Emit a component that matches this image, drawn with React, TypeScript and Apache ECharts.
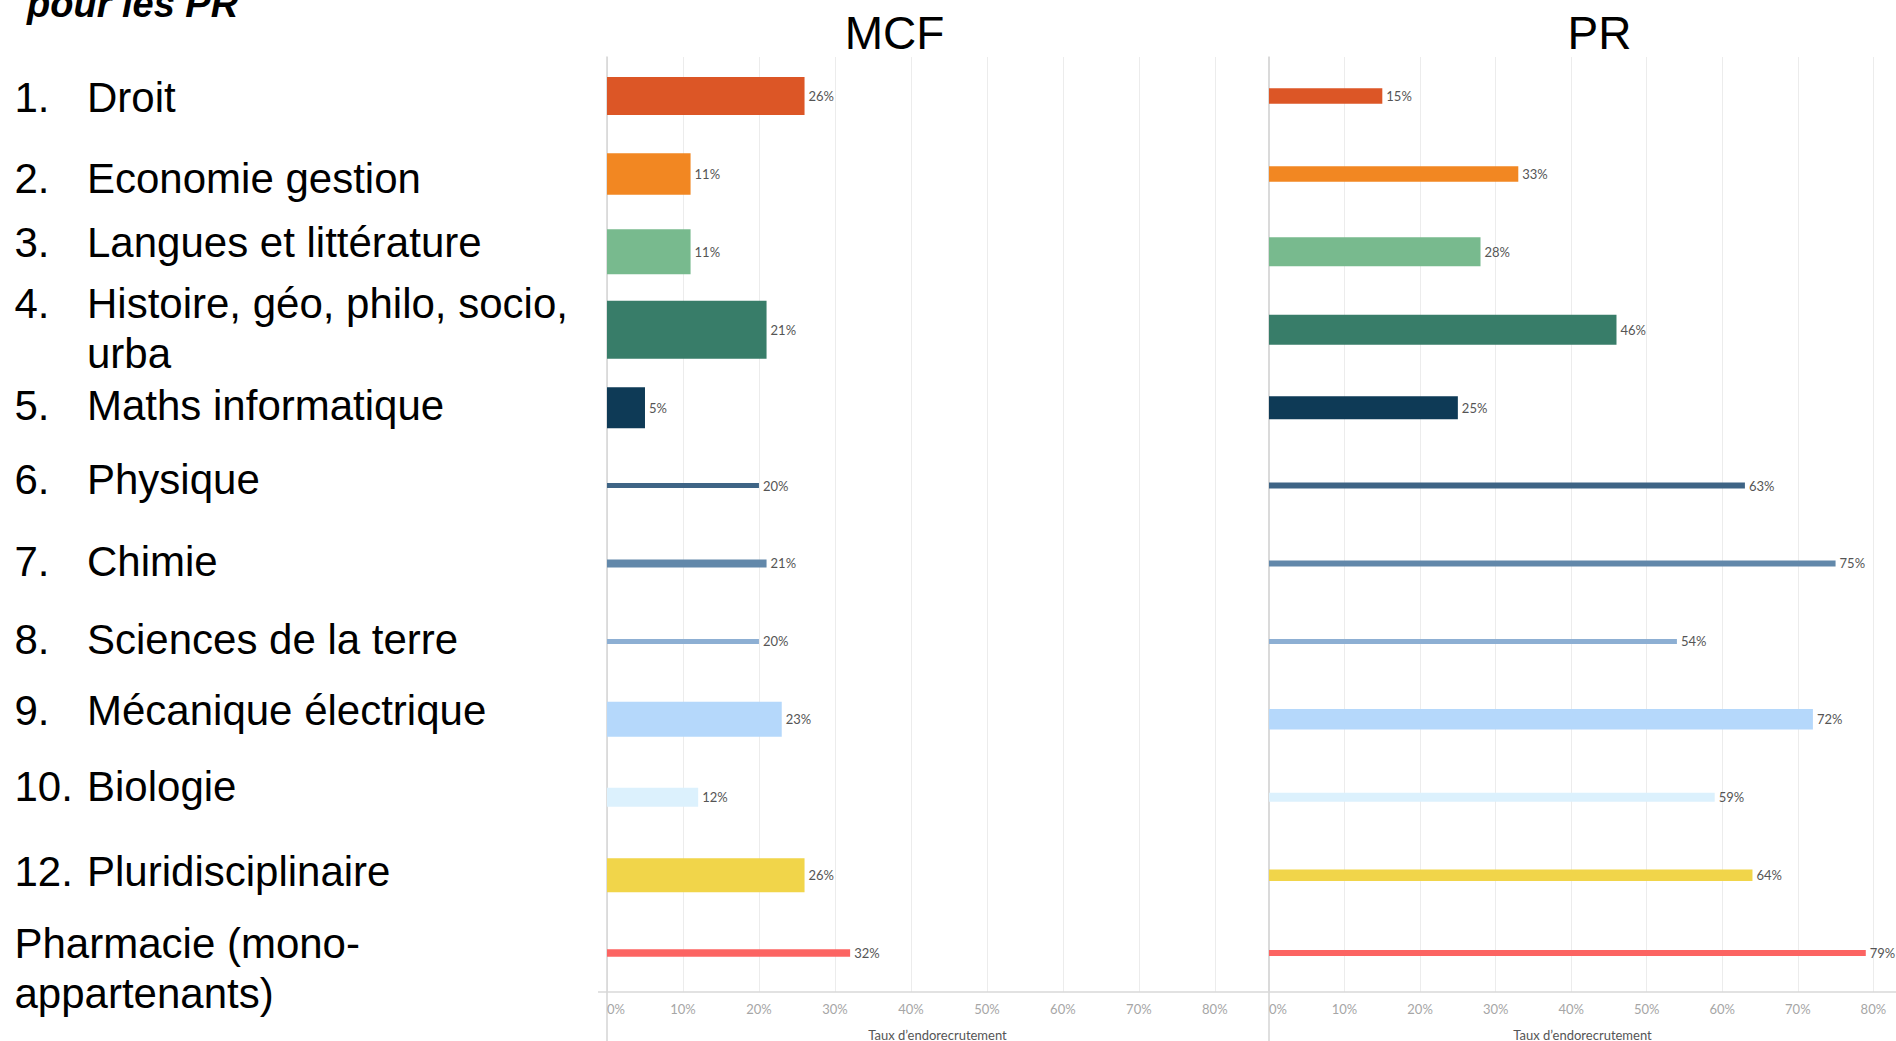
import React, { useEffect, useRef } from "react";
import * as echarts from "echarts";

// ---- Data ----
const categories = [
  "Droit",
  "Economie gestion",
  "Langues et littérature",
  "Histoire, géo, philo, socio, urba",
  "Maths informatique",
  "Physique",
  "Chimie",
  "Sciences de la terre",
  "Mécanique électrique",
  "Biologie",
  "Pluridisciplinaire",
  "Pharmacie (mono-appartenants)",
];
const mcfValues = [26, 11, 11, 21, 5, 20, 21, 20, 23, 12, 26, 32];
const prValues = [15, 33, 28, 46, 25, 63, 75, 54, 72, 59, 64, 79];
const panelTitles = ["MCF", "PR"];
const axisTitle = "Taux d\u2019endorecrutement";
const headerText = "pour les PR";
const listNumbers = ["1.", "2.", "3.", "4.", "5.", "6.", "7.", "8.", "9.", "10.", "12.", ""];
const listLines = [
  ["Droit"],
  ["Economie gestion"],
  ["Langues et littérature"],
  ["Histoire, géo, philo, socio,", "urba"],
  ["Maths informatique"],
  ["Physique"],
  ["Chimie"],
  ["Sciences de la terre"],
  ["Mécanique électrique"],
  ["Biologie"],
  ["Pluridisciplinaire"],
  ["Pharmacie (mono-", "appartenants)"],
];

// ---- Styles / layout ----
const COLORS = [
  "#DC5626", "#F28722", "#78BA8E", "#387D69", "#0E3A56", "#3E6485",
  "#6288AA", "#8DAFD3", "#B5D8FB", "#DCF1FD", "#F1D54A", "#FC6462",
];
const MCF_THICK = [38, 41.5, 45, 58, 41, 5, 8, 5, 35, 19, 34, 7.5];
const PR_THICK = [15.5, 15.5, 29, 30, 23, 6, 6, 5, 20.5, 9, 11.5, 6];
const LABEL_Y = [97, 178, 242, 303, 405, 479, 561, 639, 710, 786, 871, 943];
const LINE_GAP = 50;
const GRID_TOP = 57;
const GRID_H = 935;
const MCF_LEFT = 607;
const MCF_W = 661;
const PR_LEFT = 1269;
const PR_W = 627;
const LIGHT_FONT = "Lato";
const BIG_FONT = "Liberation Sans";

function makeRenderItem(thick: number[]) {
  return (params: any, api: any) => {
    const v = api.value(0);
    const cat = api.value(1);
    const p0 = api.coord([0, cat]);
    const p1 = api.coord([v, cat]);
    const h = thick[params.dataIndex];
    return {
      type: "group",
      children: [
        {
          type: "rect",
          shape: { x: p0[0], y: p0[1] - h / 2, width: p1[0] - p0[0], height: h },
          style: { fill: COLORS[params.dataIndex] },
        },
        {
          type: "text",
          x: p1[0] + 4,
          y: p1[1],
          style: {
            text: v + "%",
            fill: "#555555",
            fontSize: 13,
            fontFamily: LIGHT_FONT,
            align: "left",
            verticalAlign: "middle",
          },
        },
      ],
    };
  };
}

function xAxisFor(gridIndex: number, max: number) {
  return {
    type: "value",
    gridIndex,
    min: 0,
    max,
    interval: 10,
    axisLine: { show: true, lineStyle: { color: "#d9d9d9", width: 1.5 } },
    axisTick: { show: false },
    splitLine: { show: true, lineStyle: { color: "#ececec", width: 1 } },
    axisLabel: {
      formatter: (v: number) => v + "%",
      color: "#a6a6a6",
      fontSize: 13,
      fontFamily: LIGHT_FONT,
      margin: 10,
      showMaxLabel: false,
      alignMinLabel: "left",
    },
    name: axisTitle,
    nameLocation: "middle",
    nameGap: 36,
    nameTextStyle: { color: "#555555", fontSize: 13, fontFamily: LIGHT_FONT },
  };
}

function yAxisFor(gridIndex: number) {
  return {
    type: "category",
    gridIndex,
    inverse: true,
    data: categories,
    axisLine: { show: true, lineStyle: { color: "#d4d4d4", width: 1.5 } },
    axisTick: { show: false },
    axisLabel: { show: false },
    splitLine: { show: false },
  };
}

export default function App() {
  const ref = useRef<HTMLDivElement>(null);
  useEffect(() => {
    if (!ref.current) return;
    const chart = echarts.init(ref.current, undefined, { renderer: "svg" });

    const graphics: any[] = [];
    graphics.push({
      type: "text",
      x: 27,
      y: 4,
      style: {
        text: headerText,
        fontSize: 38,
        fontWeight: "bold",
        fontStyle: "italic",
        fontFamily: BIG_FONT,
        fill: "#000",
        align: "left",
        verticalAlign: "middle",
      },
    });
    const titleX = [MCF_LEFT + MCF_W * 0.435, PR_LEFT + PR_W * 0.527];
    panelTitles.forEach((t, i) => {
      graphics.push({
        type: "text",
        x: titleX[i],
        y: 33,
        style: {
          text: t,
          fontSize: 46,
          fontFamily: BIG_FONT,
          fill: "#000",
          align: "center",
          verticalAlign: "middle",
        },
      });
    });
    listLines.forEach((lines, i) => {
      const num = listNumbers[i];
      if (num) {
        graphics.push({
          type: "text",
          x: 14.5,
          y: LABEL_Y[i],
          style: { text: num, fontSize: 42, fontFamily: BIG_FONT, fill: "#000", align: "left", verticalAlign: "middle" },
        });
      }
      lines.forEach((ln, j) => {
        graphics.push({
          type: "text",
          x: num ? 87 : 14.5,
          y: LABEL_Y[i] + j * LINE_GAP,
          style: { text: ln, fontSize: 42, fontFamily: BIG_FONT, fill: "#000", align: "left", verticalAlign: "middle" },
        });
      });
    });
    // pane border extensions below the axis
    [MCF_LEFT, PR_LEFT].forEach((x) => {
      graphics.push({
        type: "line",
        shape: { x1: x, y1: GRID_TOP + GRID_H, x2: x, y2: 1041 },
        style: { stroke: "#d4d4d4", lineWidth: 1.5 },
      });
    });
    graphics.push({
      type: "line",
      shape: { x1: 598, y1: GRID_TOP + GRID_H, x2: MCF_LEFT, y2: GRID_TOP + GRID_H },
      style: { stroke: "#d9d9d9", lineWidth: 1.5 },
    });

    chart.setOption({
      animation: false,
      backgroundColor: "#ffffff",
      grid: [
        { left: MCF_LEFT, top: GRID_TOP, width: MCF_W, height: GRID_H, outerBoundsMode: "none", containLabel: false },
        { left: PR_LEFT, top: GRID_TOP, width: PR_W, height: GRID_H, outerBoundsMode: "none", containLabel: false },
      ],
      xAxis: [xAxisFor(0, 87), xAxisFor(1, 83)],
      yAxis: [yAxisFor(0), yAxisFor(1)],
      series: [
        {
          type: "custom",
          name: panelTitles[0],
          xAxisIndex: 0,
          yAxisIndex: 0,
          encode: { x: 0, y: 1 },
          data: mcfValues.map((v, i) => [v, i]),
          renderItem: makeRenderItem(MCF_THICK),
        },
        {
          type: "custom",
          name: panelTitles[1],
          xAxisIndex: 1,
          yAxisIndex: 1,
          encode: { x: 0, y: 1 },
          data: prValues.map((v, i) => [v, i]),
          renderItem: makeRenderItem(PR_THICK),
        },
      ],
      graphic: graphics,
    });
    return () => chart.dispose();
  }, []);
  return (
    <div
      ref={ref}
      style={{ position: "fixed", left: 0, top: 0, width: 1896, height: 1041, background: "#fff" }}
    />
  );
}
